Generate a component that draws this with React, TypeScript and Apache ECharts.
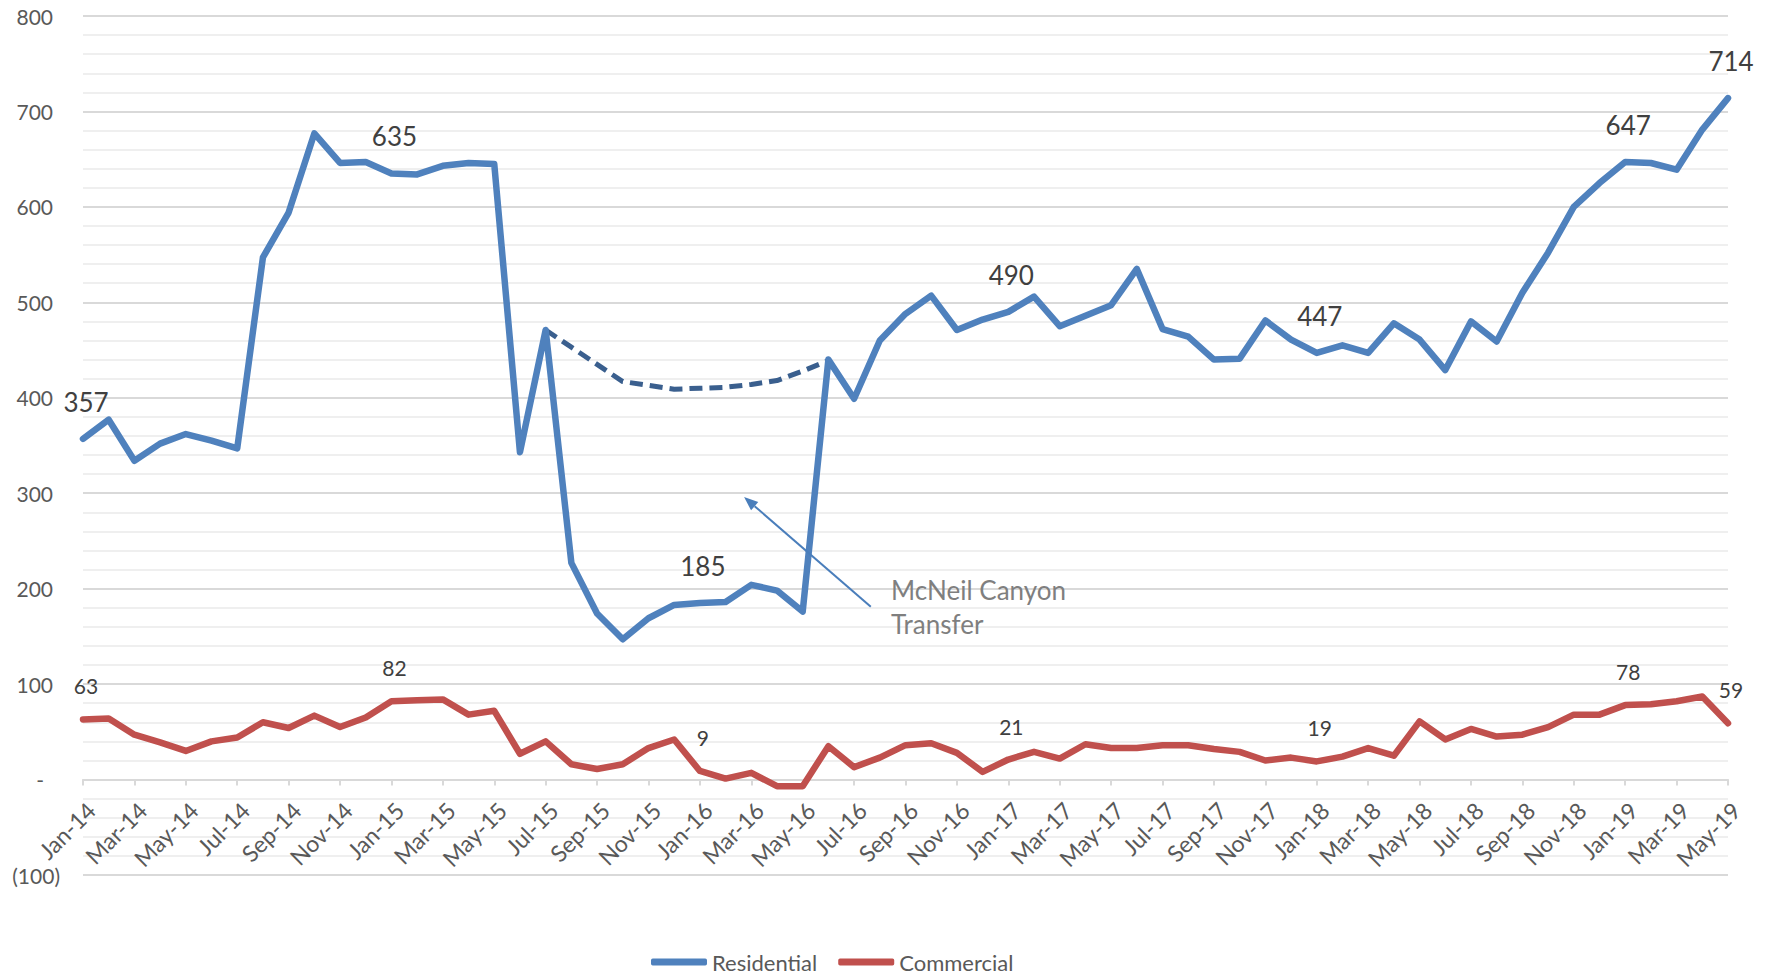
import React, { useEffect, useRef } from 'react';
import * as echarts from 'echarts';

const categories = [
  'Jan-14', 'Feb-14', 'Mar-14', 'Apr-14', 'May-14', 'Jun-14', 'Jul-14', 'Aug-14', 'Sep-14', 'Oct-14', 'Nov-14', 'Dec-14',
  'Jan-15', 'Feb-15', 'Mar-15', 'Apr-15', 'May-15', 'Jun-15', 'Jul-15', 'Aug-15', 'Sep-15', 'Oct-15', 'Nov-15', 'Dec-15',
  'Jan-16', 'Feb-16', 'Mar-16', 'Apr-16', 'May-16', 'Jun-16', 'Jul-16', 'Aug-16', 'Sep-16', 'Oct-16', 'Nov-16', 'Dec-16',
  'Jan-17', 'Feb-17', 'Mar-17', 'Apr-17', 'May-17', 'Jun-17', 'Jul-17', 'Aug-17', 'Sep-17', 'Oct-17', 'Nov-17', 'Dec-17',
  'Jan-18', 'Feb-18', 'Mar-18', 'Apr-18', 'May-18', 'Jun-18', 'Jul-18', 'Aug-18', 'Sep-18', 'Oct-18', 'Nov-18', 'Dec-18',
  'Jan-19', 'Feb-19', 'Mar-19', 'Apr-19', 'May-19',
];

const residential = [
  357, 377, 334, 352, 362, 355, 347, 547, 594, 677, 646, 647,
  635, 634, 643, 646, 645, 343, 471, 227, 174, 147, 169, 183,
  185, 186, 204, 198, 176, 440, 399, 460, 488, 507, 471, 482,
  490, 506, 475, 486, 497, 535, 472, 464, 440, 441, 481, 461,
  447, 455, 447, 478, 461, 429, 480, 459, 510, 552, 600, 625,
  647, 646, 639, 681, 714,
];

const commercial = [
  63, 64, 47, 39, 30, 40, 44, 60, 54, 67, 55, 65,
  82, 83, 84, 68, 72, 27, 40, 16, 11, 16, 33, 42,
  9, 1, 7, -7, -7, 35, 13, 23, 36, 38, 28, 8,
  21, 29, 22, 37, 33, 33, 36, 36, 32, 29, 20, 23,
  19, 24, 33, 25, 61, 42, 53, 45, 47, 55, 68, 68,
  78, 79, 82, 87, 59,
];

// Residential trend without the McNeil Canyon transfer (dashed)
const transferTrend: (number | null)[] = [
  null, null, null, null, null, null, null, null, null, null, null, null,
  null, null, null, null, null, null, 471, 453, 435, 417, 413, 409,
  410, 411, 414, 418, 428, 439, null, null, null, null, null, null,
  null, null, null, null, null, null, null, null, null, null, null, null,
  null, null, null, null, null, null, null, null, null, null, null, null,
  null, null, null, null, null,
];

const residentialLabelIdx = [0, 12, 24, 36, 48, 60, 64];
const commercialLabelIdx = [0, 12, 24, 36, 48, 60, 64];

const annotationLines = ['McNeil Canyon', 'Transfer'];
// annotation anchors in data space: [category index, value]
const arrowFrom = [30.65, 181];
const arrowTo = [25.72, 296];
const annotationAnchor = [31.44, 181];

const FONT = 'Lato, "Liberation Sans", sans-serif';

export default function App() {
  const ref = useRef<HTMLDivElement>(null);

  useEffect(() => {
    if (!ref.current) return;
    const chart = echarts.init(ref.current, null, { renderer: 'svg' });

    const withLabels = (arr: number[], idx: number[]) =>
      arr.map((v, i) => (idx.includes(i) ? { value: v, label: { show: true } } : v));

    const labelRich = {
      p: { padding: [0, 7, 0, 0], fontSize: 21, fontFamily: FONT, color: '#595959' },
      d: { padding: [0, 16, 0, 0], fontSize: 21, fontFamily: FONT, color: '#595959' },
      n: { fontSize: 21, fontFamily: FONT, color: '#595959' },
    };

    chart.setOption({
      animation: false,
      backgroundColor: '#ffffff',
      grid: { left: 83, right: 46, top: 16, bottom: 101, containLabel: false },
      legend: {
        data: ['Residential', 'Commercial'],
        left: 651,
        top: 951,
        padding: 0,
        itemGap: 21,
        itemWidth: 56,
        itemHeight: 7,
        icon: 'roundRect',
        textStyle: { fontFamily: FONT, fontSize: 22, color: '#595959' },
      },
      xAxis: {
        type: 'category',
        data: categories,
        boundaryGap: false,
        axisLine: { onZero: true, lineStyle: { color: '#d9d9d9', width: 2 } },
        axisTick: { interval: 1, length: 6, lineStyle: { color: '#d9d9d9', width: 2 } },
        axisLabel: {
          interval: 1,
          rotate: 45,
          margin: -77,
          align: 'right',
          verticalAlign: 'top',
          fontFamily: FONT,
          fontSize: 23,
          color: '#595959',
        },
        splitLine: { show: false },
      },
      yAxis: {
        type: 'value',
        min: -100,
        max: 800,
        interval: 100,
        axisLine: { show: false },
        axisTick: { show: false },
        splitLine: { show: true, lineStyle: { color: '#d9d9d9', width: 2 } },
        minorTick: { show: false, splitNumber: 5 },
        minorSplitLine: { show: true, lineStyle: { color: '#efefef', width: 2 } },
        axisLabel: {
          margin: 23,
          fontFamily: FONT,
          fontSize: 21,
          color: '#595959',
          formatter: (v: number) =>
            v === 0 ? '{d|-}' : v < 0 ? `{n|(${Math.abs(v)})}` : `{p|${v}}`,
          rich: labelRich,
        },
      },
      series: [
        {
          name: 'Transfer trend',
          type: 'line',
          data: transferTrend,
          showSymbol: false,
          connectNulls: false,
          lineStyle: { color: '#3a5f8e', width: 5, type: [13, 7], cap: 'butt' },
          itemStyle: { color: '#3a5f8e' },
          z: 2,
        },
        {
          name: 'Residential',
          type: 'line',
          data: withLabels(residential, residentialLabelIdx),
          showSymbol: true,
          showAllSymbol: true,
          symbol: 'circle',
          symbolSize: 0,
          lineStyle: { color: '#4f81bd', width: 6.5, cap: 'round', join: 'round' },
          itemStyle: { color: '#4f81bd' },
          label: {
            show: false,
            position: 'top',
            distance: 24,
            offset: [3, 0],
            fontFamily: FONT,
            fontSize: 26,
            color: '#404040',
          },
          z: 3,
        },
        {
          name: 'Commercial',
          type: 'line',
          data: withLabels(commercial, commercialLabelIdx),
          showSymbol: true,
          showAllSymbol: true,
          symbol: 'circle',
          symbolSize: 0,
          lineStyle: { color: '#c0504d', width: 6.5, cap: 'round', join: 'round' },
          itemStyle: { color: '#c0504d' },
          label: {
            show: false,
            position: 'top',
            distance: 23,
            offset: [3, 0],
            fontFamily: FONT,
            fontSize: 21,
            color: '#404040',
          },
          z: 3,
        },
      ],
    });

    const last = categories.length - 1;
    const px = (i: number, v: number) => {
      const i0 = Math.max(0, Math.min(last - 1, Math.floor(i)));
      const a = chart.convertToPixel({ gridIndex: 0 }, [i0, v]) as number[];
      const b = chart.convertToPixel({ gridIndex: 0 }, [i0 + 1, v]) as number[];
      const t = i - i0;
      return [a[0] + (b[0] - a[0]) * t, a[1] + (b[1] - a[1]) * t];
    };

    const s = px(arrowFrom[0], arrowFrom[1]);
    const e = px(arrowTo[0], arrowTo[1]);
    const dx = e[0] - s[0];
    const dy = e[1] - s[1];
    const len = Math.sqrt(dx * dx + dy * dy);
    const ux = dx / len;
    const uy = dy / len;
    const headL = 14;
    const headW = 11;
    const bx = e[0] - ux * headL;
    const by = e[1] - uy * headL;
    const nx = -uy;
    const ny = ux;
    const t = px(annotationAnchor[0], annotationAnchor[1]);

    chart.setOption({
      graphic: [
        {
          type: 'line',
          z: 10,
          shape: { x1: s[0], y1: s[1], x2: bx, y2: by },
          style: { stroke: '#4a7ebb', lineWidth: 2 },
        },
        {
          type: 'polygon',
          z: 10,
          shape: {
            points: [
              [e[0], e[1]],
              [bx + (nx * headW) / 2, by + (ny * headW) / 2],
              [bx - (nx * headW) / 2, by - (ny * headW) / 2],
            ],
          },
          style: { fill: '#4a7ebb' },
        },
        {
          type: 'text',
          z: 10,
          x: t[0],
          y: t[1],
          style: {
            text: annotationLines.join('\n'),
            fontFamily: FONT,
            fontSize: 26,
            lineHeight: 34,
            fill: '#7f7f7f',
            align: 'left',
            verticalAlign: 'middle',
          },
        },
      ],
    });

    return () => chart.dispose();
  }, []);

  return (
    <div
      ref={ref}
      style={{ position: 'fixed', left: 0, top: 0, width: '1774px', height: '976px' }}
    />
  );
}
